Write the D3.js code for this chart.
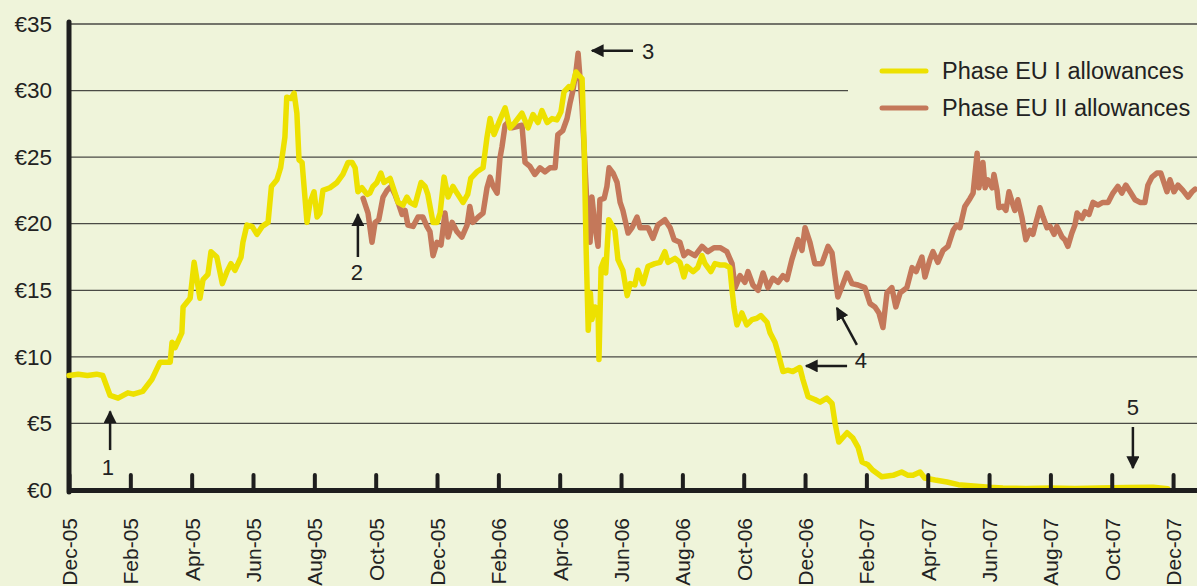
<!DOCTYPE html>
<html>
<head>
<meta charset="utf-8">
<script src="https://cdnjs.cloudflare.com/ajax/libs/d3/7.8.5/d3.min.js"></script>
<style>
  body { margin: 0; background: #eff4da; }
  svg { display: block; font-family: "Liberation Sans", Arial, sans-serif; }
</style>
</head>
<body>
<div id="chart"></div>
<script>
// Chart dimensions
var W = 1197, H = 586;
var margin = {top: 24, right: 0, bottom: 96, left: 69};
var bg = '#eff4da';
var yellow = '#ede100';
var brown = '#c4785a';

// Tick labels (as printed on the original)
var xLabels = ['Dec-05', 'Feb-05', 'Apr-05', 'Jun-05', 'Aug-05', 'Oct-05', 'Dec-05',
  'Feb-06', 'Apr-06', 'Jun-06', 'Aug-06', 'Oct-06', 'Dec-06', 'Feb-07', 'Apr-07',
  'Jun-07', 'Aug-07', 'Oct-07', 'Dec-07'];
var yTicks = [0, 5, 10, 15, 20, 25, 30, 35];

// Series: [months since first tick, price in euro]
var phaseOne = [
  [0,8.6],[0.3,8.7],[0.6,8.6],[0.9,8.7],[1.1,8.6],[1.34,7.1],[1.6,6.9],[1.92,7.3],[2.1,7.2],[2.4,7.4],
  [2.7,8.3],[2.97,9.6],[3.3,9.6],[3.36,11.1],[3.46,10.7],[3.68,11.8],[3.72,13.75],[3.95,14.4],[4.08,17.1],
  [4.27,14.4],[4.37,15.8],[4.53,16.2],[4.63,17.9],[4.82,17.5],[5.0,15.5],[5.15,16.4],[5.28,17.0],[5.41,16.5],
  [5.61,17.5],[5.67,18.6],[5.8,19.9],[5.97,19.8],[6.13,19.2],[6.3,19.8],[6.49,20.1],[6.6,22.8],[6.78,23.3],
  [6.9,24.2],[7.04,26.5],[7.1,29.5],[7.24,29.4],[7.34,29.8],[7.43,28.3],[7.5,24.8],[7.6,24.6],[7.76,20.1],
  [7.86,21.6],[7.99,22.4],[8.09,20.5],[8.18,20.8],[8.28,22.5],[8.51,22.7],[8.74,23.1],[8.93,23.7],[9.1,24.6],
  [9.23,24.6],[9.33,24.2],[9.42,22.4],[9.55,22.7],[9.72,22.2],[9.81,22.3],[9.91,22.8],[10.04,23.1],[10.17,23.8],
  [10.27,23.1],[10.47,23.4],[10.6,22.5],[10.73,21.6],[10.89,21.4],[11.02,22.0],[11.12,21.6],[11.28,21.4],
  [11.48,23.1],[11.61,22.8],[11.7,22.2],[11.87,20.1],[12.0,20.1],[12.1,20.8],[12.23,23.5],[12.36,22.0],
  [12.52,22.8],[12.65,22.3],[12.85,21.6],[13.0,22.2],[13.1,23.4],[13.3,23.9],[13.5,24.2],[13.63,26.5],
  [13.73,27.9],[13.86,26.7],[14.05,27.8],[14.22,28.7],[14.38,27.2],[14.54,27.6],[14.77,28.3],[14.97,27.2],
  [15.13,28.2],[15.29,27.6],[15.42,28.5],[15.59,27.6],[15.75,27.9],[15.91,27.8],[16.04,28.4],[16.14,29.9],
  [16.3,30.3],[16.4,30.2],[16.53,31.4],[16.6,31.2],[16.73,30.9],[16.8,25.5],[16.86,18.3],[16.93,12.0],
  [17.0,14.8],[17.05,12.8],[17.15,13.75],[17.25,13.5],[17.28,9.8],[17.35,16.7],[17.45,17.3],[17.5,16.3],
  [17.6,20.3],[17.8,19.5],[17.9,17.3],[18.06,16.5],[18.2,14.6],[18.3,15.5],[18.45,15.4],[18.55,16.5],
  [18.72,15.5],[18.88,16.8],[19.1,17.0],[19.27,17.1],[19.43,17.9],[19.53,17.1],[19.76,17.4],[19.92,17.1],
  [20.05,16.0],[20.15,16.8],[20.35,16.4],[20.5,16.7],[20.64,17.6],[20.74,17.0],[20.93,16.4],[21.06,17.0],
  [21.23,16.9],[21.39,16.9],[21.55,16.7],[21.62,15.0],[21.68,13.75],[21.78,12.4],[21.94,13.3],[22.1,12.4],
  [22.27,12.8],[22.43,12.9],[22.56,13.1],[22.76,12.6],[22.86,11.8],[23.02,11.1],[23.12,10.3],[23.28,8.9],
  [23.44,9.0],[23.6,8.9],[23.83,9.2],[23.93,8.3],[24.1,7.0],[24.32,6.8],[24.49,6.6],[24.71,6.9],[24.88,6.5],
  [24.98,5.0],[25.1,3.6],[25.37,4.3],[25.56,3.9],[25.73,3.2],[25.86,2.1],[26.05,1.9],[26.2,1.5],[26.5,1.0],
  [26.87,1.1],[27.15,1.35],[27.36,1.1],[27.52,1.1],[27.75,1.35],[27.9,0.9],[28.24,0.75],[28.63,0.6],
  [29.0,0.4],[29.5,0.3],[30.0,0.2],[30.45,0.15],[31.2,0.12],[32.0,0.15],[32.8,0.12],[33.6,0.15],
  [34.5,0.18],[35.35,0.2],[35.83,0.1]
];

var phaseTwo = [
  [9.59,21.9],[9.75,20.8],[9.88,18.6],[9.98,20.1],[10.1,20.3],[10.24,22.0],[10.37,22.5],[10.5,22.8],
  [10.63,22.2],[10.76,21.4],[10.86,20.7],[10.96,21.0],[11.05,19.9],[11.22,19.8],[11.38,20.5],[11.54,20.5],
  [11.67,19.8],[11.77,19.4],[11.87,17.6],[12.0,18.6],[12.13,18.4],[12.26,20.8],[12.36,19.0],[12.49,20.1],
  [12.65,19.4],[12.81,19.0],[12.98,19.9],[13.07,21.3],[13.17,20.1],[13.34,20.5],[13.5,20.8],[13.63,22.7],
  [13.73,23.5],[13.83,22.8],[13.96,22.3],[14.05,24.9],[14.12,25.8],[14.22,27.4],[14.31,27.6],[14.44,27.2],
  [14.61,27.3],[14.77,27.4],[14.87,24.6],[15.03,24.3],[15.19,23.7],[15.36,24.2],[15.52,23.9],[15.68,24.2],
  [15.85,24.2],[15.94,26.7],[16.1,27.0],[16.24,27.9],[16.34,29.1],[16.43,30.0],[16.53,31.4],[16.6,32.8],
  [16.66,31.0],[16.73,28.8],[16.8,25.5],[16.89,21.3],[16.99,18.6],[17.05,22.0],[17.15,19.8],[17.25,18.3],
  [17.31,21.8],[17.45,21.9],[17.54,22.8],[17.61,24.2],[17.74,23.8],[17.87,23.1],[17.97,21.6],[18.06,21.0],
  [18.23,19.3],[18.36,19.7],[18.52,20.5],[18.62,19.7],[18.72,19.7],[18.88,19.7],[19.04,18.9],[19.2,19.9],
  [19.43,20.3],[19.6,19.7],[19.73,18.8],[19.92,18.6],[20.05,17.6],[20.18,17.9],[20.41,17.6],[20.64,18.3],
  [20.83,17.9],[21.03,18.2],[21.23,18.2],[21.45,17.9],[21.62,17.0],[21.72,15.2],[21.88,16.1],[22.04,15.6],
  [22.14,16.4],[22.3,15.4],[22.47,15.0],[22.63,16.3],[22.79,15.2],[22.95,15.9],[23.12,15.6],[23.28,16.1],
  [23.41,15.8],[23.57,17.3],[23.77,18.8],[23.9,18.0],[24.0,19.7],[24.16,18.6],[24.32,17.0],[24.55,17.0],
  [24.75,18.3],[24.88,17.8],[24.98,16.0],[25.07,14.5],[25.24,15.5],[25.37,16.3],[25.53,15.5],[25.73,15.4],
  [25.95,15.2],[26.12,14.0],[26.28,13.75],[26.41,13.3],[26.54,12.2],[26.67,14.8],[26.83,15.2],[26.96,13.75],
  [27.1,14.8],[27.32,15.2],[27.49,16.7],[27.62,16.4],[27.81,17.5],[27.91,16.0],[28.07,17.3],[28.17,17.9],
  [28.33,17.1],[28.5,18.0],[28.66,18.3],[28.83,19.5],[28.95,19.9],[29.05,19.7],[29.21,21.3],[29.38,21.9],
  [29.48,22.3],[29.61,25.3],[29.67,22.7],[29.8,24.6],[29.87,22.7],[29.96,23.3],[30.1,22.7],[30.16,23.7],
  [30.26,22.5],[30.32,21.2],[30.45,21.3],[30.55,21.0],[30.65,22.4],[30.78,21.4],[30.84,21.0],[30.94,21.8],
  [31.07,20.5],[31.2,18.8],[31.33,19.5],[31.43,19.2],[31.53,20.1],[31.66,21.2],[31.76,20.5],[31.89,19.7],
  [31.99,19.8],[32.12,19.2],[32.21,19.8],[32.38,19.0],[32.47,18.8],[32.57,18.3],[32.7,19.3],[32.8,19.9],
  [32.87,20.8],[33.03,20.4],[33.13,20.9],[33.26,20.7],[33.39,21.6],[33.55,21.4],[33.71,21.6],[33.88,21.6],
  [34.04,22.3],[34.2,22.8],[34.33,22.3],[34.46,22.9],[34.6,22.4],[34.76,21.8],[34.92,21.6],[35.08,21.6],
  [35.18,22.9],[35.31,23.5],[35.47,23.8],[35.6,23.8],[35.7,23.1],[35.8,22.4],[35.9,23.3],[36.03,22.4],
  [36.16,22.9],[36.32,22.5],[36.49,22.0],[36.62,22.4],[36.72,22.6]
];

var seriesNames = ['Phase EU I allowances', 'Phase EU II allowances'];

// Numbered call-outs: arrow from -> to, label position (months, euro)
var notes = [
  {n: '1', from: [1.34, 3.0],  to: [1.34, 5.9],  at: [1.27, 1.7]},
  {n: '2', from: [9.42, 17.5], to: [9.42, 20.7], at: [9.39, 16.4]},
  {n: '3', from: [18.39, 33.0], to: [17.05, 33.0], at: [18.88, 33.0]},
  {n: '4', from: [25.37, 9.32], to: [24.03, 9.32], at: [25.82, 9.77]},
  {n: '',  from: [25.69, 10.9], to: [25.04, 13.67], at: null},
  {n: '5', from: [34.69, 4.73], to: [34.69, 1.65], at: [34.69, 6.24]}
];

// Scales
var xScale = d3.scaleLinear().domain([0, 36.78]).range([margin.left, W]);
var yScale = d3.scaleLinear().domain([0, 35]).range([H - margin.bottom, margin.top]);

var svg = d3.select('#chart').append('svg')
  .attr('width', W)
  .attr('height', H);

svg.append('rect').attr('width', W).attr('height', H).attr('fill', bg);

var defs = svg.append('defs');
defs.append('marker')
  .attr('id', 'head')
  .attr('viewBox', '0 0 10 10')
  .attr('refX', 9).attr('refY', 5)
  .attr('markerWidth', 13).attr('markerHeight', 13)
  .attr('markerUnits', 'userSpaceOnUse')
  .attr('orient', 'auto')
  .append('path')
  .attr('d', 'M0,0 L10,5 L0,10 Z')
  .attr('fill', '#1b1b1b');

// gridlines
svg.append('g').attr('class', 'grid')
  .selectAll('line')
  .data(yTicks.slice(1))
  .enter().append('line')
  .attr('x1', margin.left).attr('x2', W)
  .attr('y1', function(d) { return yScale(d); })
  .attr('y2', function(d) { return yScale(d); })
  .attr('stroke', '#4a4a45')
  .attr('stroke-width', 1.3);

// y axis
var yAxis = d3.axisLeft(yScale)
  .tickValues(yTicks)
  .tickSize(0)
  .tickPadding(17)
  .tickFormat(function(d) { return '€' + d; });

var gY = svg.append('g')
  .attr('transform', 'translate(' + margin.left + ',0)')
  .call(yAxis);
gY.select('.domain').remove();
gY.selectAll('text')
  .attr('font-size', 22.5)
  .attr('font-family', '"Liberation Sans", Arial, sans-serif')
  .attr('fill', '#222');

svg.append('line')
  .attr('x1', margin.left).attr('x2', margin.left)
  .attr('y1', yScale(35) - 2).attr('y2', yScale(0) + 2)
  .attr('stroke', '#1e1e1e')
  .attr('stroke-width', 5)
  .attr('stroke-linecap', 'round');

// lines
var line = d3.line()
  .x(function(d) { return xScale(d[0]); })
  .y(function(d) { return yScale(d[1]); });

svg.append('path')
  .datum(phaseTwo)
  .attr('d', line)
  .attr('fill', 'none')
  .attr('stroke', brown)
  .attr('stroke-width', 5.5)
  .attr('stroke-linejoin', 'round')
  .attr('stroke-linecap', 'round');

svg.append('path')
  .datum(phaseOne)
  .attr('d', line)
  .attr('fill', 'none')
  .attr('stroke', yellow)
  .attr('stroke-width', 5.5)
  .attr('stroke-linejoin', 'round')
  .attr('stroke-linecap', 'round');

// x axis
var xAxis = d3.axisBottom(xScale)
  .tickValues(d3.range(0, 37, 2))
  .tickSizeInner(-15)
  .tickSizeOuter(0)
  .tickFormat(function(d, i) { return xLabels[i]; });

var gX = svg.append('g')
  .attr('transform', 'translate(0,' + yScale(0) + ')')
  .call(xAxis);
gX.select('.domain')
  .attr('stroke', '#1e1e1e')
  .attr('stroke-width', 5);
gX.selectAll('.tick line')
  .attr('stroke', '#1e1e1e')
  .attr('stroke-width', 4)
  .attr('stroke-linecap', 'round');
gX.selectAll('.tick text')
  .attr('transform', 'rotate(-90)')
  .attr('text-anchor', 'end')
  .attr('x', -28)
  .attr('y', 0)
  .attr('dy', '0.36em')
  .attr('font-size', 21)
  .attr('font-family', '"Liberation Sans", Arial, sans-serif')
  .attr('fill', '#222');

// legend
var legend = svg.append('g').attr('class', 'legend');
legend.append('rect')
  .attr('x', 848).attr('y', 52)
  .attr('width', W - 848).attr('height', 72)
  .attr('fill', bg);
var item = legend.selectAll('g')
  .data(seriesNames)
  .enter().append('g')
  .attr('transform', function(d, i) { return 'translate(882,' + (71 + i * 37) + ')'; });
item.append('line')
  .attr('x1', 0).attr('x2', 44)
  .attr('stroke', function(d, i) { return i === 0 ? yellow : brown; })
  .attr('stroke-width', 5)
  .attr('stroke-linecap', 'round');
item.append('text')
  .attr('x', 60)
  .attr('dy', '0.35em')
  .attr('font-size', 23.5)
  .attr('fill', '#222')
  .text(function(d) { return d; });

// call-outs
var note = svg.append('g').attr('class', 'notes');
note.selectAll('line')
  .data(notes)
  .enter().append('line')
  .attr('x1', function(d) { return xScale(d.from[0]); })
  .attr('y1', function(d) { return yScale(d.from[1]); })
  .attr('x2', function(d) { return xScale(d.to[0]); })
  .attr('y2', function(d) { return yScale(d.to[1]); })
  .attr('stroke', '#1b1b1b')
  .attr('stroke-width', 2.5)
  .attr('marker-end', 'url(#head)');
note.selectAll('text')
  .data(notes.filter(function(d) { return d.at; }))
  .enter().append('text')
  .attr('x', function(d) { return xScale(d.at[0]); })
  .attr('y', function(d) { return yScale(d.at[1]); })
  .attr('dy', '0.36em')
  .attr('text-anchor', 'middle')
  .attr('font-size', 22)
  .attr('fill', '#222')
  .text(function(d) { return d.n; });
</script>
</body>
</html>
